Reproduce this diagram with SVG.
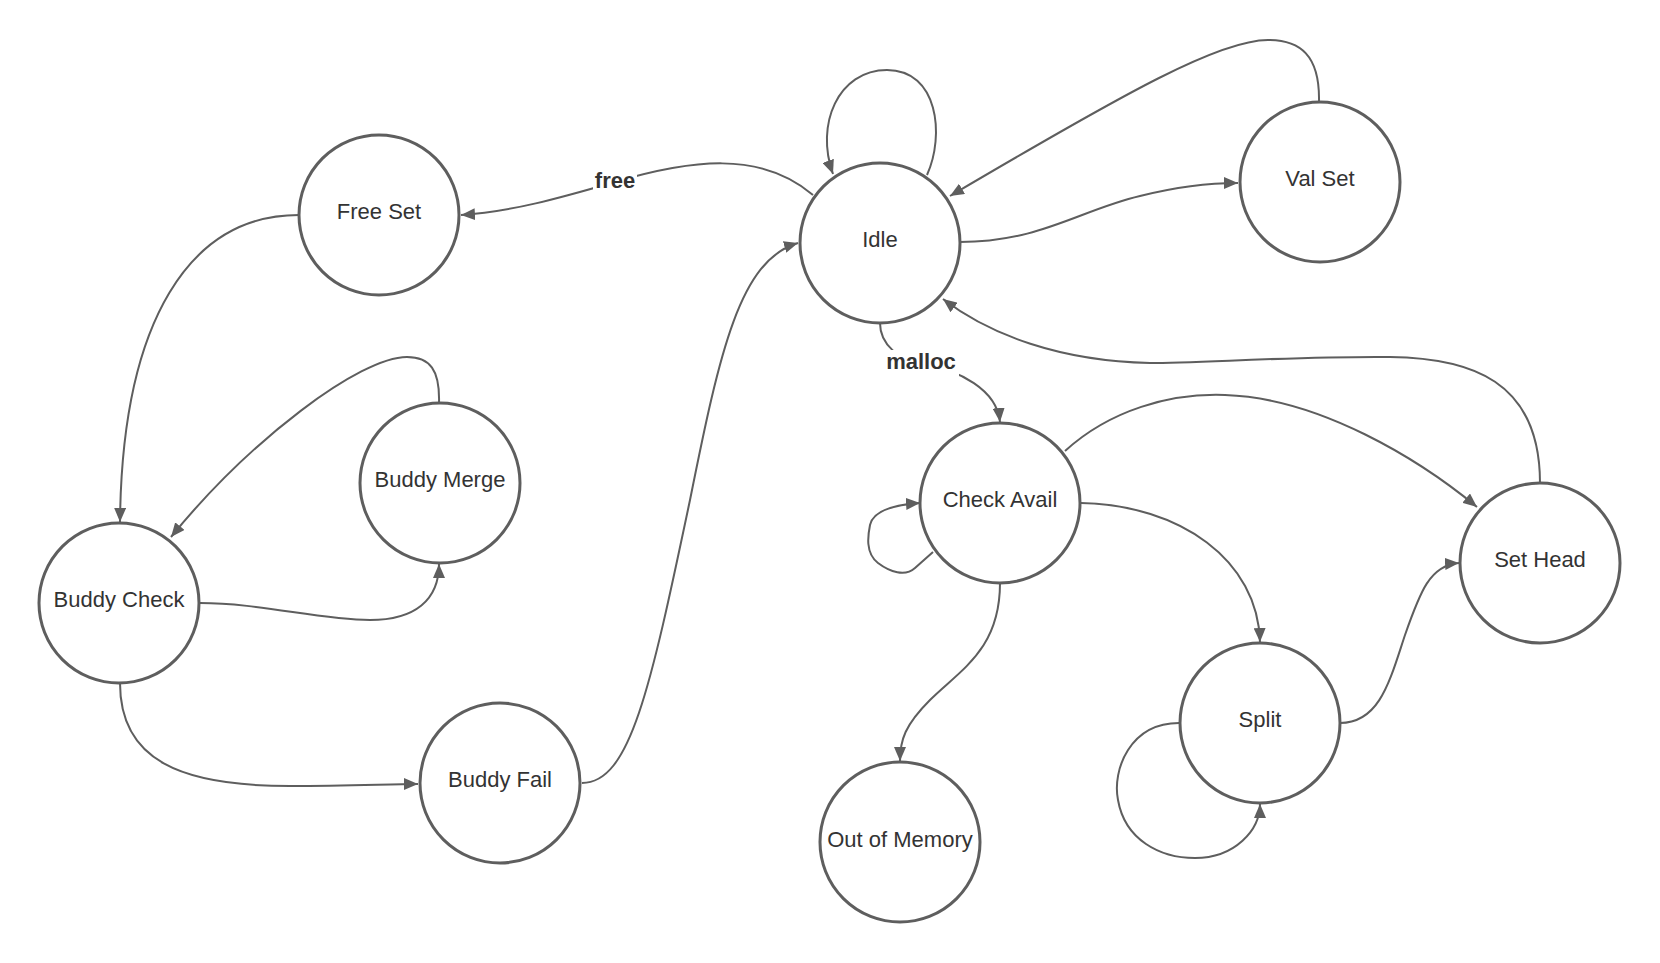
<svg xmlns="http://www.w3.org/2000/svg" width="1660" height="963" viewBox="0 0 1660 963">
<defs>
<style>
.node circle{fill:#ffffff;stroke:#5e5e5e;stroke-width:3}
.node text{font-family:"Liberation Sans",Arial,sans-serif;font-size:22px;fill:#333333;text-anchor:middle}
.edge{fill:none;stroke:#5e5e5e;stroke-width:2;marker-end:url(#arr)}
.lbl{font-family:"Liberation Sans",Arial,sans-serif;font-size:22px;font-weight:bold;fill:#333333;text-anchor:middle}
</style>
<marker id="arr" markerUnits="userSpaceOnUse" markerWidth="16" markerHeight="12" refX="14" refY="6" orient="auto">
<path d="M0,0 L14,6 L0,12 Z" fill="#5e5e5e"/>
</marker>
</defs>
<rect width="1660" height="963" fill="#ffffff"/>
<g id="connectors">
<path class="edge" d="M927,175 C945,135 938,70 887,70 C838,70 815,125 833,174"/>
<path class="edge" d="M813,195 C760,150 690,160 615,182 C560,198 510,212 461,215"/>
<path class="edge" d="M1319,102 C1320,55 1300,40 1268,40 C1220,40 1130,90 950,196"/>
<path class="edge" d="M960,242 C1040,242 1080,210 1140,196 C1180,186 1210,183 1238,183"/>
<path class="edge" d="M880,323 C880,345 900,360 920,363 C960,370 997,390 1000,422"/>
<path class="edge" d="M1540,483 C1540,380 1470,358 1390,357 C1300,356 1200,363 1150,363 C1060,361 990,335 943,299"/>
<path class="edge" d="M1065,451 C1110,410 1170,393 1225,395 C1320,398 1420,460 1477,507"/>
<path class="edge" d="M1081,503 C1180,505 1258,560 1260,642"/>
<path class="edge" d="M933,552 L915,568 C905,577 890,572 878,563 C865,553 868,535 870,525 C873,512 890,505 920,503"/>
<path class="edge" d="M1000,583 C1000,650 960,670 930,700 C905,725 900,740 900,761"/>
<path class="edge" d="M1340,723 C1380,723 1390,680 1405,635 C1420,592 1430,565 1459,563"/>
<path class="edge" d="M1179,723 C1130,723 1112,770 1118,800 C1125,840 1160,858 1195,858 C1235,858 1260,830 1260,804"/>
<path class="edge" d="M299,215 C190,215 122,320 120,522"/>
<path class="edge" d="M439,403 C440,370 430,357 407,357 C360,357 250,440 171,537"/>
<path class="edge" d="M200,603 C260,603 320,620 370,620 C415,620 439,600 439,564"/>
<path class="edge" d="M120,683 C120,760 180,786 290,786 C350,786 390,784 418,784"/>
<path class="edge" d="M582,783 C630,783 650,690 690,500 C720,350 740,260 798,243"/>
<rect x="593" y="168" width="44" height="26" fill="#ffffff"/>
<text class="lbl" x="615" y="188">free</text>
<rect x="883" y="350" width="76" height="26" fill="#ffffff"/>
<text class="lbl" x="921" y="369">malloc</text>
</g>
<g id="node-idle" class="node"><circle cx="880" cy="243" r="80"/><text x="880" y="247">Idle</text></g>
<g id="node-free-set" class="node"><circle cx="379" cy="215" r="80"/><text x="379" y="219">Free Set</text></g>
<g id="node-val-set" class="node"><circle cx="1320" cy="182" r="80"/><text x="1320" y="186">Val Set</text></g>
<g id="node-buddy-merge" class="node"><circle cx="440" cy="483" r="80"/><text x="440" y="487">Buddy Merge</text></g>
<g id="node-buddy-check" class="node"><circle cx="119" cy="603" r="80"/><text x="119" y="607">Buddy Check</text></g>
<g id="node-buddy-fail" class="node"><circle cx="500" cy="783" r="80"/><text x="500" y="787">Buddy Fail</text></g>
<g id="node-check-avail" class="node"><circle cx="1000" cy="503" r="80"/><text x="1000" y="507">Check Avail</text></g>
<g id="node-set-head" class="node"><circle cx="1540" cy="563" r="80"/><text x="1540" y="567">Set Head</text></g>
<g id="node-split" class="node"><circle cx="1260" cy="723" r="80"/><text x="1260" y="727">Split</text></g>
<g id="node-out-of-memory" class="node"><circle cx="900" cy="842" r="80"/><text x="900" y="847">Out of Memory</text></g>
</svg>
